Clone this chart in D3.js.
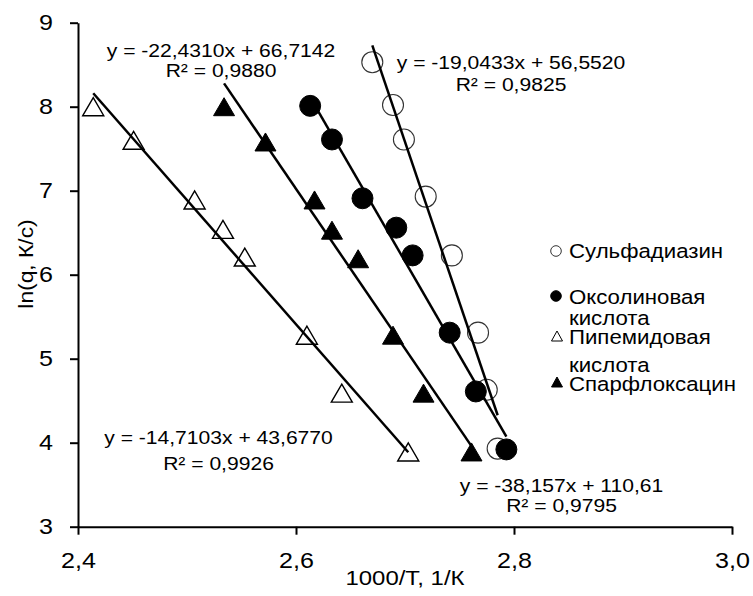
<!DOCTYPE html>
<html>
<head>
<meta charset="utf-8">
<script src="https://cdn.jsdelivr.net/npm/d3@7"></script>
<style>
  body { margin: 0; background: #fff; }
  svg { display: block; font-family: 'Liberation Sans', Arial, sans-serif; }
</style>
</head>
<body>
<div id="chart"></div>
<script>
// data (1000/T vs ln q)
const xTicks = [2.4, 2.6, 2.8, 3.0];
const yTicks = [3, 4, 5, 6, 7, 8, 9];

const seriesNames = ['Сульфадиазин', 'Оксолиновая кислота', 'Пипемидовая кислота', 'Спарфлоксацин'];

const sulfaX = [2.670, 2.689, 2.699, 2.719, 2.743, 2.767, 2.775, 2.785];
const sulfaY = [8.53, 8.02, 7.61, 6.93, 6.23, 5.31, 4.63, 3.93];

const oxoX = [2.613, 2.633, 2.661, 2.692, 2.707, 2.741, 2.765, 2.793];
const oxoY = [8.01, 7.61, 6.91, 6.56, 6.23, 5.31, 4.61, 3.92];

const pipX = [2.414, 2.451, 2.507, 2.533, 2.553, 2.610, 2.642, 2.703];
const pipY = [8.00, 7.60, 6.89, 6.54, 6.21, 5.28, 4.59, 3.89];

const sparX = [2.534, 2.572, 2.617, 2.633, 2.657, 2.689, 2.717, 2.761];
const sparY = [8.00, 7.58, 6.89, 6.53, 6.19, 5.28, 4.59, 3.89];

// trendline labels as printed on the chart
const eqLabels = [
  ['y = -22,4310x + 66,7142', 'R² = 0,9880'],
  ['y = -19,0433x + 56,5520', 'R² = 0,9825'],
  ['y = -14,7103x + 43,6770', 'R² = 0,9926'],
  ['y = -38,157x + 110,61', 'R² = 0,9795']
];

const width = 753;
const height = 596;
const stretch = 1.14; // glyphs in the source are a bit wider than Arial

const x = d3.scaleLinear().domain([2.4, 3.0]).range([78, 732]);
const y = d3.scaleLinear().domain([3, 9]).range([526.7, 22.7]);

const svg = d3.select('#chart').append('svg')
    .attr('width', width)
    .attr('height', height);

const comma = (v) => d3.format('.1f')(v).replace('.', ',');

const label = (g, px, py, str, size, anchor, rot) => g.append('text')
    .attr('transform', `translate(${px},${py}) rotate(${rot || 0}) scale(${stretch},1)`)
    .attr('text-anchor', anchor || 'middle')
    .attr('font-size', size)
    .attr('fill', '#000')
    .text(str);

// axes
const gx = svg.append('g')
    .attr('transform', `translate(0,${y(3)})`)
    .call(d3.axisBottom(x).tickValues(xTicks).tickFormat(comma)
        .tickSize(8).tickSizeOuter(0));
gx.selectAll('text').attr('y', 41).attr('dy', 0)
    .attr('transform', `scale(${stretch},1)`);

const gy = svg.append('g')
    .attr('transform', `translate(${x(2.4)},0)`)
    .call(d3.axisLeft(y).tickValues(yTicks).tickFormat(d3.format('d'))
        .tickSize(8).tickSizeOuter(0));
gy.selectAll('text').attr('x', -25 / stretch)
    .attr('transform', `scale(${stretch},1)`);

[gx, gy].forEach((g) => g.attr('font-family', null).attr('font-size', 22));

svg.selectAll('.domain, .tick line')
    .attr('stroke', '#000')
    .attr('stroke-width', 2);
svg.selectAll('.tick text').attr('fill', '#000');

label(svg, 405, 585, '1000/T, 1/К', 21);
label(svg, 33, 264, 'ln(q, К/с)', 20, 'middle', -90);

// markers
const triPath = (w, h) => `M${-w / 2},${h / 2}L0,${-h / 2}L${w / 2},${h / 2}Z`;

const pts = (xs, ys) => xs.map((v, i) => [v, ys[i]]);

const series = [
  {data: pts(sulfaX, sulfaY), shape: 'circle', fill: '#fff', stroke: '#333', sw: 1.1},
  {data: pts(oxoX, oxoY), shape: 'circle', fill: '#000', stroke: '#000', sw: 1},
  {data: pts(pipX, pipY), shape: 'tri', fill: '#fff', stroke: '#000', sw: 1.4},
  {data: pts(sparX, sparY), shape: 'tri', fill: '#000', stroke: '#000', sw: 1}
];

series.forEach((s) => {
  const g = svg.append('g');
  if (s.shape === 'circle') {
    g.selectAll('circle').data(s.data).join('circle')
        .attr('cx', (d) => x(d[0]))
        .attr('cy', (d) => y(d[1]))
        .attr('r', 10.5)
        .attr('fill', s.fill)
        .attr('stroke', s.stroke)
        .attr('stroke-width', s.sw);
  } else {
    g.selectAll('path').data(s.data).join('path')
        .attr('transform', (d) => `translate(${x(d[0])},${y(d[1])})`)
        .attr('d', triPath(21, 18))
        .attr('fill', s.fill)
        .attr('stroke', s.stroke)
        .attr('stroke-width', s.sw)
        .attr('stroke-linejoin', 'miter');
  }
});

// linear trendlines (least squares over each series)
const fit = (d) => {
  const mx = d3.mean(d, (p) => p[0]);
  const my = d3.mean(d, (p) => p[1]);
  const k = d3.sum(d, (p) => (p[0] - mx) * (p[1] - my)) /
      d3.sum(d, (p) => (p[0] - mx) * (p[0] - mx));
  const [x0, x1] = d3.extent(d, (p) => p[0]);
  return [[x0, my + k * (x0 - mx)], [x1, my + k * (x1 - mx)]];
};

svg.append('g')
    .selectAll('path')
    .data(series.map((s) => fit(s.data)))
    .join('path')
    .attr('d', d3.line().x((d) => x(d[0])).y((d) => y(d[1])))
    .attr('fill', 'none')
    .attr('stroke', '#000')
    .attr('stroke-width', 2.5);

// equation labels
const eqPos = [[221, 56.5, 77], [511, 69, 91], [218.5, 444, 470], [561.5, 492, 512]];
eqLabels.forEach((lines, i) => {
  label(svg, eqPos[i][0], eqPos[i][1], lines[0], 18.5);
  label(svg, eqPos[i][0], eqPos[i][2], lines[1], 18.5);
});

// legend
const legend = svg.append('g');
const legendRows = [
  {marker: 0, cy: 251, lines: [['Сульфадиазин', 257.7]]},
  {marker: 1, cy: 296, lines: [['Оксолиновая', 304.3], ['кислота', 325]]},
  {marker: 2, cy: 336, lines: [['Пипемидовая', 344.3], ['кислота', 371.7]]},
  {marker: 3, cy: 382, lines: [['Спарфлоксацин', 391]]}
];
legendRows.forEach((r) => {
  const s = series[r.marker];
  if (s.shape === 'circle') {
    legend.append('circle')
        .attr('cx', 556).attr('cy', r.cy).attr('r', 5.3)
        .attr('fill', s.fill).attr('stroke', s.stroke).attr('stroke-width', 1);
  } else {
    legend.append('path')
        .attr('transform', `translate(557,${r.cy})`)
        .attr('d', triPath(11, 10))
        .attr('fill', s.fill).attr('stroke', s.stroke).attr('stroke-width', 1);
  }
  r.lines.forEach((l) => label(legend, 569, l[1], l[0], 19.5, 'start'));
});
</script>
</body>
</html>
